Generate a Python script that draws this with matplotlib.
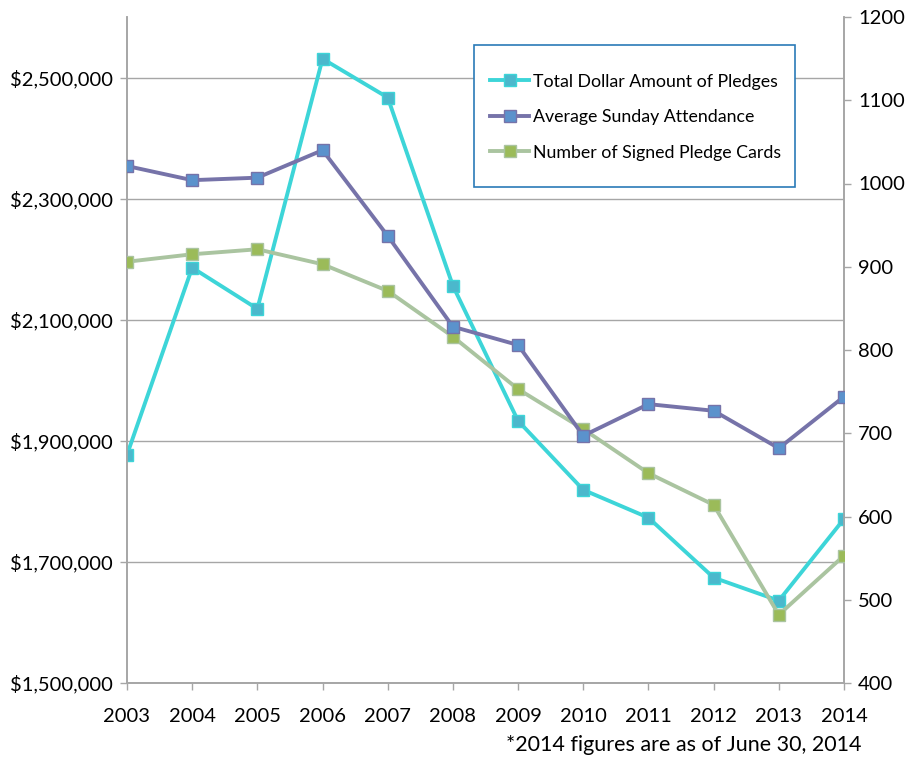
import matplotlib
matplotlib.use("Agg")
import matplotlib.pyplot as plt
from matplotlib.ticker import FuncFormatter
from matplotlib.patches import Rectangle

years = [2003, 2004, 2005, 2006, 2007, 2008, 2009, 2010, 2011, 2012, 2013, 2014]
dollars = [1877000, 2186000, 2118000, 2531000, 2467000, 2156000, 1933000, 1819000, 1773000, 1674000, 1636000, 1771000]
attendance = [1021, 1004, 1007, 1040, 937, 828, 806, 697, 735, 727, 682, 744]
pledge_cards = [906, 915, 921, 903, 871, 816, 753, 705, 652, 614, 482, 553]

left_ticks = [1500000, 1700000, 1900000, 2100000, 2300000, 2500000]
right_ticks = [400, 500, 600, 700, 800, 900, 1000, 1100, 1200]

plt.rcParams['font.family'] = ['Lato', 'DejaVu Sans']

W, H = 908, 757
fig = plt.figure(figsize=(9.08, 7.57), dpi=100)
ax = fig.add_axes([127/W, 1-683/H, (844-127)/W, (683-17)/H])
ax2 = ax.twinx()

gray = '#A6A6A6'
l1, = ax.plot(years, dollars, color='#3DD5D8', lw=2.8, marker='s', ms=8,
              mfc='#4BB8CC', mec='#3DD5D8', mew=1, label='Total Dollar Amount of Pledges', zorder=5)
l2, = ax2.plot(years, attendance, color='#7673A9', lw=2.8, marker='s', ms=8,
               mfc='#5B92CC', mec='#7673A9', mew=1, label='Average Sunday Attendance', zorder=4)
l3, = ax2.plot(years, pledge_cards, color='#AAC4A0', lw=2.8, marker='s', ms=8,
               mfc='#9BBB59', mec='#AAC4A0', mew=1, label='Number of Signed Pledge Cards', zorder=3)

ax.set_xlim(2003, 2014)
ax.set_ylim(1500000, 2600000)
ax2.set_ylim(400, 1200)
ax.set_yticks(left_ticks)
ax.yaxis.set_major_formatter(FuncFormatter(lambda v, p: '${:,.0f}'.format(v)))
ax2.set_yticks(right_ticks)
ax.set_xticks(years)

ax.grid(axis='y', color=gray, lw=1)
ax.set_axisbelow(True)
for a in (ax, ax2):
    a.spines['top'].set_visible(False)
    for s in ('left', 'right', 'bottom'):
        a.spines[s].set_color(gray)
        a.spines[s].set_linewidth(1.2)
ax.tick_params(axis='both', colors=gray, labelcolor='black', labelsize=14.5, length=5, width=1)
ax2.tick_params(axis='y', colors=gray, labelcolor='black', labelsize=14.5, length=5, width=1, pad=5)
ax.tick_params(axis='x', pad=13)
ax.tick_params(axis='y', pad=5)

# legend box
box = Rectangle((474/W, 1-187/H), (795-474)/W, (187-45)/H, transform=fig.transFigure,
                facecolor='white', edgecolor='#2A7AB8', lw=1.2, zorder=9)
fig.patches.append(box)

leg = fig.legend(handles=[l1, l2, l3], loc='upper left',
                 bbox_to_anchor=(490/W, 1-73.5/H),
                 fontsize=12.8, frameon=False, borderpad=0,
                 labelspacing=1.1, handlelength=2.2, handletextpad=0.2, borderaxespad=0)
leg.set_zorder(10)

fig.text(862/W, 1-745/H, '*2014 figures are as of June 30, 2014', ha='right', va='center', fontsize=15.5)

fig.savefig('out.png', dpi=100)
